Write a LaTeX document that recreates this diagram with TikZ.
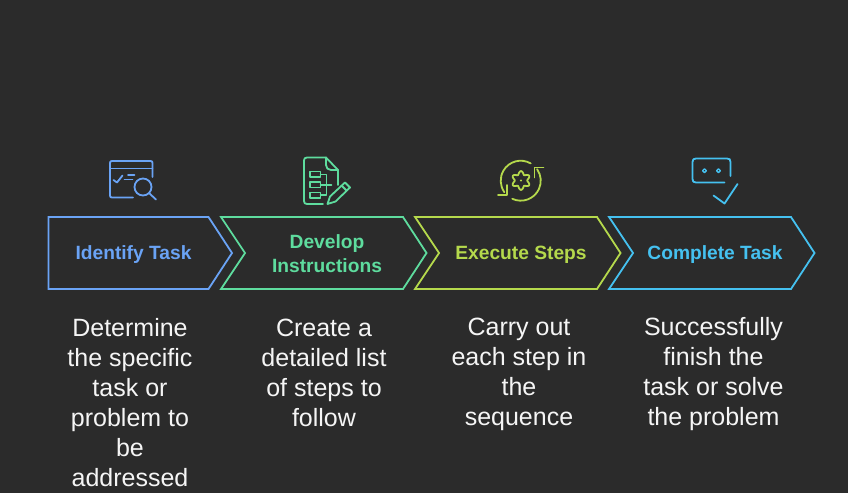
\documentclass[tikz,border=0pt]{standalone}
\usepackage{fontspec}
\setmainfont{Liberation Sans}
\usetikzlibrary{arrows}

\definecolor{identcol}{HTML}{6AA3F5}
\definecolor{devcol}{HTML}{5EDC9E}
\definecolor{execol}{HTML}{B5D94C}
\definecolor{compcol}{HTML}{45C1F0}
\definecolor{backcol}{HTML}{2B2B2B}

\begin{document}
\begin{tikzpicture}[x=1pt,y=-1pt]

	\tikzstyle chevron lines=[line width=1.8pt,line join=miter];
	\tikzstyle icon lines=[line width=1.8pt,line cap=round,line join=round];
	\tikzstyle step label=[font=\fontsize{19.2}{24}\selectfont\bfseries,align=center,inner sep=0pt];
	\tikzstyle step text=[font=\fontsize{25}{30}\selectfont,text=white!96!black,align=center,inner sep=0pt];

	\fill[backcol] (0,0) rectangle (848,493);
	\useasboundingbox (0,0) rectangle (848,493);

	\draw[chevron lines,identcol] (48.5,217) -- (208.5,217) -- (232,253) -- (208.5,289) -- (48.5,289) -- cycle;
		\foreach \x/\col in {0/devcol,194/execol,388/compcol}
			\draw[chevron lines,\col,xshift=\x pt] (221,217) -- (403,217) -- (426.5,253) -- (403,289) -- (221,289) -- (245,253) -- cycle;

	\foreach \x/\y/\col/\name/\label in {133.5/254.5/identcol/identify/{Identify Task},327/253.5/devcol/develop/{Develop\\Instructions},521/255/execol/execute/{Execute Steps},715/255/compcol/complete/{Complete Task}}
		\node[step label,text=\col] (\name) at (\x,\y) {\label};

	\node[step text] (identifytext) at (130,402.5) {Determine\\the specific\\task or\\problem to\\be\\addressed};
	\node[step text] (developtext) at (324,372.5) {Create a\\detailed list\\of steps to\\follow};
	\node[step text] (executetext) at (519,374.5) {Carry out\\each step in\\the\\sequence};
	\node[step text] (completetext) at (713.5,374) {Successfully\\finish the\\task or solve\\the problem};

	% identify icon
	\begin{scope}[icon lines,identcol]
		\draw (133,197.5) -- (112,197.5) .. controls (110.5,197.5) and (110,197) .. (110,195.5) -- (110,163) .. controls (110,161.5) and (110.5,161) .. (112,161) -- (150.5,161) .. controls (152,161) and (152.5,161.5) .. (152.5,163) -- (152.5,177);
		\draw (110,168.5) -- (152.5,168.5);
		\draw (113.5,180) -- (117,182.5) -- (122.5,175.5);
		\draw (128,175) -- (134.5,175);
		\draw (124.5,179.5) -- (132.5,179.5);
		\draw (143,187) circle (8.5);
		\draw (149.5,193.5) -- (156,199.5);
	\end{scope}

	% develop icon
	\begin{scope}[icon lines,devcol]
		\draw (323,204) -- (307,204) .. controls (305,204) and (304,203) .. (304,201) -- (304,160.5) .. controls (304,158.5) and (305,157.5) .. (307,157.5) -- (326,157.5) -- (338,170) -- (338,185);
		\draw (326,157.5) -- (326,165) .. controls (326,168) and (328,170) .. (331,170) -- (338,170);
		\foreach \y in {171.5,182,192.5}
			\draw (310,\y) rectangle (320.5,\y+5.5);
		\draw (320.5,174.5) -- (326.5,174.5) -- (326.5,195) -- (320.5,195);
		\draw (320.5,185) -- (331.5,185);
		\draw (327.5,204) -- (330,196.5) -- (345,182.5) -- (350,187.5) -- (335.5,201.5) -- cycle;
		\draw (341.5,185.5) -- (346.5,190.5);
	\end{scope}

	% execute icon
	\begin{scope}[icon lines,execol]
		\draw (530.7,163.4) arc[start angle=-60,end angle=-215,radius=20];
		\draw (512.3,198.8) arc[start angle=115,end angle=-35,radius=20];
		\draw (498,195) -- (507.3,195) -- (507.3,185);
		\draw (543.5,167.5) -- (534.5,167.5) -- (534.5,177.5);
		\draw plot[domain=0:360,samples=73,smooth cycle] ({521+(7.8-1.6*cos(6*\x))*cos(\x)},{180.5+(7.8-1.6*cos(6*\x))*sin(\x)});
		\fill (521,180.5) circle (1.2);
	\end{scope}

	% complete icon
	\begin{scope}[icon lines,compcol]
		\draw (724.5,182.5) -- (696,182.5) .. controls (693.5,182.5) and (692.5,181.5) .. (692.5,179) -- (692.5,162) .. controls (692.5,159.5) and (693.5,158.5) .. (696,158.5) -- (727,158.5) .. controls (729.5,158.5) and (730.5,159.5) .. (730.5,162) -- (730.5,176);
		\foreach \x in {704.5,718.5}
			\draw[line width=1.3pt] (\x,170.7) circle (1.9);
		\draw (713.5,195.5) -- (724.5,203.5) -- (737.5,184);
	\end{scope}

\end{tikzpicture}
\end{document}
